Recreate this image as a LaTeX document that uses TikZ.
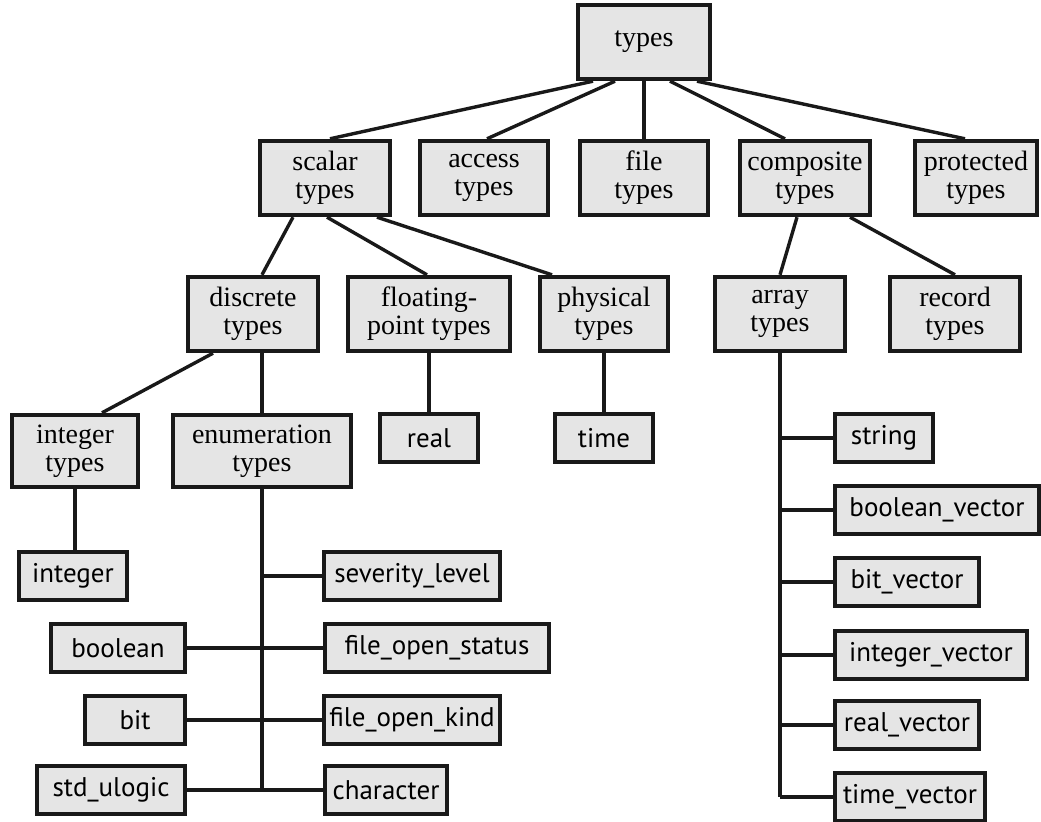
\documentclass[tikz,border=0pt]{standalone}
\usepackage{fontspec}
\setmainfont{Liberation Serif}
\newfontfamily\boxsans{PT Sans}

\tikzset{
  typebox/.style={rectangle, draw=black!90, line width=2.2pt, fill=gray!20, inner sep=0pt, align=center,
    minimum height=37pt, font=\fontsize{14}{14}\selectfont},
  valbox/.style={rectangle, draw=black!90, line width=2.2pt, fill=gray!20, inner sep=0pt, align=center,
    minimum height=24pt, font=\boxsans\fontsize{13.5}{14}\selectfont},
  link/.style={draw=black!90, line width=1.7pt},
}

\begin{document}
\begin{tikzpicture}[x=0.5pt, y=-0.5pt]
  \useasboundingbox (0,0) rectangle (1041,822);

  % top level
  \node[typebox, minimum width=66pt] (types) at (644,42) {types};

  \node[typebox, minimum width=65pt] (scalar)    at (325,178) {scalar\\types};
  \node[typebox, minimum width=64pt] (access)    at (484,178) {access\\types};
  \node[typebox, minimum width=64pt] (file)      at (644,178) {file\\types};
  \node[typebox, minimum width=65pt] (composite) at (805,178) {composite\\types};
  \node[typebox, minimum width=61pt] (protected) at (976,178) {protected\\types};

  % second level
  \node[typebox, minimum width=65pt] (discrete) at (253,314) {discrete\\types};
  \node[typebox, minimum width=81pt] (floating) at (429,314) {floating-\\point types};
  \node[typebox, minimum width=64pt] (physical) at (604,314) {physical\\types};
  \node[typebox, minimum width=65pt] (array)    at (780,314) {array\\types};
  \node[typebox, minimum width=65pt] (record)   at (955,314) {record\\types};

  % third level
  \node[typebox, minimum width=63pt, minimum height=36pt] (inttypes)  at (75,451)  {integer\\types};
  \node[typebox, minimum width=89pt, minimum height=36pt] (enumtypes) at (262,451) {enumeration\\types};
  \node[valbox, minimum width=49pt] (real) at (429,438) {real};
  \node[valbox, minimum width=49pt] (time) at (604,438) {time};

  % predefined types
  \node[valbox, minimum width=54pt]  (integer)   at (73,576)  {integer};
  \node[valbox, minimum width=88pt]  (severity)  at (412,576) {severity\_level};
  \node[valbox, minimum width=67pt]  (boolean)   at (118,648) {boolean};
  \node[valbox, minimum width=112pt] (fostatus)  at (437,648) {file\_open\_status};
  \node[valbox, minimum width=50pt]  (bit)       at (135,720) {bit};
  \node[valbox, minimum width=88pt]  (fokind)    at (412,720) {file\_open\_kind};
  \node[valbox, minimum width=74pt]  (stdulogic) at (111,790) {std\_ulogic};
  \node[valbox, minimum width=61pt]  (character) at (386,790) {character};

  \node[valbox, minimum width=49pt]  (string)  at (884,438) {string};
  \node[valbox, minimum width=102pt] (boolvec) at (937,510) {boolean\_vector};
  \node[valbox, minimum width=72pt]  (bitvec)  at (907,582) {bit\_vector};
  \node[valbox, minimum width=96pt]  (intvec)  at (931,655) {integer\_vector};
  \node[valbox, minimum width=72pt]  (realvec) at (907,725) {real\_vector};
  \node[valbox, minimum width=75pt]  (timevec) at (910,797) {time\_vector};

  % connectors from types
  \draw[link] ([xshift=-25.5pt]types.south) -- ([xshift=2.5pt]scalar.north);
  \draw[link] ([xshift=-14.5pt]types.south) -- ([xshift=1.5pt]access.north);
  \draw[link] (types.south) -- (file.north);
  \draw[link] ([xshift=13pt]types.south) -- ([xshift=-10pt]composite.north);
  \draw[link] ([xshift=26.5pt]types.south) -- ([xshift=-5.5pt]protected.north);

  % scalar and composite
  \draw[link] ([xshift=-16pt]scalar.south) -- ([xshift=4.5pt]discrete.north);
  \draw[link] ([xshift=1pt]scalar.south) -- ([xshift=-1pt]floating.north);
  \draw[link] ([xshift=26pt]scalar.south) -- ([xshift=-26pt]physical.north);
  \draw[link] ([xshift=-4pt]composite.south) -- (array.north);
  \draw[link] ([xshift=22.5pt]composite.south) -- (record.north);

  \draw[link] ([xshift=-20pt]discrete.south) -- ([xshift=13.5pt]inttypes.north);
  \draw[link] ([xshift=4.5pt]discrete.south) -- (enumtypes.north);
  \draw[link] (floating.south) -- (real.north);
  \draw[link] (physical.south) -- (time.north);
  \draw[link] (inttypes.south) -- (inttypes.south |- integer.north);

  % enumeration trunk
  \draw[link] (enumtypes.south) -- (enumtypes.south |- character.west);
  \draw[link] (enumtypes.south |- severity.west) -- (severity.west);
  \draw[link] (boolean.east) -- (fostatus.west);
  \draw[link] (bit.east) -- (fokind.west);
  \draw[link] (stdulogic.east) -- (character.west);

  % array trunk
  \draw[link] (array.south) -- (array.south |- timevec.west);
  \draw[link] (array.south |- string.west) -- (string.west);
  \draw[link] (array.south |- boolvec.west) -- (boolvec.west);
  \draw[link] (array.south |- bitvec.west) -- (bitvec.west);
  \draw[link] (array.south |- intvec.west) -- (intvec.west);
  \draw[link] (array.south |- realvec.west) -- (realvec.west);
  \draw[link] (array.south |- timevec.west) -- (timevec.west);
\end{tikzpicture}
\end{document}
